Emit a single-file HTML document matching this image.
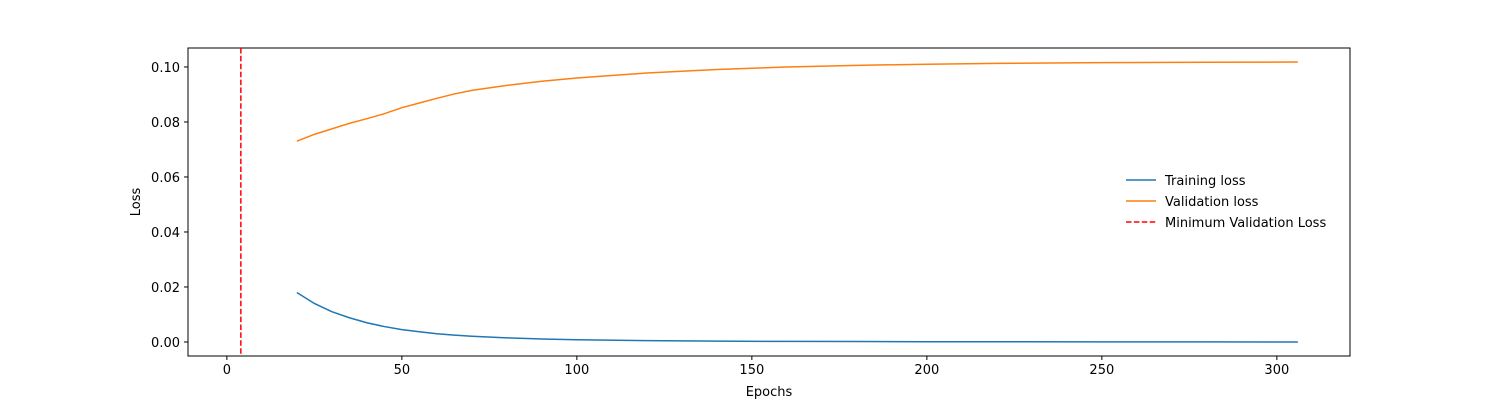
<!DOCTYPE html>
<html><head><meta charset="utf-8">
<style>
body{margin:0;background:#fff;}
svg text{font-family:"DejaVu Sans","Liberation Sans",sans-serif;font-size:13px;fill:#000;}
</style></head>
<body>
<svg id="chart" width="1500" height="400" viewBox="0 0 1500 400" xmlns="http://www.w3.org/2000/svg">
<rect x="0" y="0" width="1500" height="400" fill="#fff"/>
<g id="plot"></g>
</svg>
<script>
const epochs = [20,25,30,35,40,45,50,55,60,65,70,80,90,100,120,140,160,180,200,220,250,280,306];
const validationLoss = [0.073,0.0755,0.0775,0.0795,0.0812,0.083,0.0852,0.0869,0.0886,0.0902,0.0915,0.0933,0.0948,0.0960,0.0978,0.0991,0.1000,0.1006,0.1010,0.1013,0.1016,0.1017,0.1018];
const trainingLoss = [0.018,0.0140,0.0110,0.0088,0.0070,0.0056,0.0045,0.0037,0.0030,0.0025,0.0021,0.0015,0.0011,0.0008,0.0005,0.0003,0.0002,0.00015,0.0001,0.00007,0.00004,0.00002,0.00001];
const minValEpoch = 4;
const xTicks = [0,50,100,150,200,250,300];
const yTicks = [0.00,0.02,0.04,0.06,0.08,0.10];

const L=188,R=1350,T=48,B=356;
const xMin=-11.1,xMax=320.9,yMin=-0.0051,yMax=0.1069;
const xs=v=>L+(v-xMin)/(xMax-xMin)*(R-L);
const ys=v=>B-(v-yMin)/(yMax-yMin)*(B-T);
const NS="http://www.w3.org/2000/svg";
const g=document.getElementById('plot');
function mk(tag,attrs,parent){const e=document.createElementNS(NS,tag);for(const k in attrs)e.setAttribute(k,attrs[k]);(parent||g).appendChild(e);return e;}

const frame=mk('rect',{x:L,y:T,width:R-L,height:B-T,fill:'none',stroke:'#000','stroke-width':1});



xTicks.forEach(t=>{
  const x=xs(t);
  const l=mk('line',{x1:x,x2:x,y1:B,y2:B+4,stroke:'#000'});
  
  
  const tx=mk('text',{x:x,y:B+18,'text-anchor':'middle'});
  tx.textContent=String(t);
  
  
});
yTicks.forEach(t=>{
  const y=ys(t);
  const l=mk('line',{x1:L-4,x2:L,y1:y,y2:y,stroke:'#000'});
  
  
  const tx=mk('text',{x:L-8,y:y+5,'text-anchor':'end'});
  tx.textContent=t.toFixed(2);
  
  
});

function series(vals,color,name){
  const d=epochs.map((e,i)=>(i?'L':'M')+xs(e).toFixed(2)+','+ys(vals[i]).toFixed(2)).join(' ');
  const p=mk('path',{d:d,fill:'none',stroke:color,'stroke-width':1.5});
  
  
}
series(trainingLoss,'#1f77b4','training-loss-line');
series(validationLoss,'#ff7f0e','validation-loss-line');

const vl=mk('line',{x1:xs(minValEpoch),x2:xs(minValEpoch),y1:T,y2:B,stroke:'#ff0000','stroke-width':1.5,'stroke-dasharray':'5.5,2.4'});



const xl=mk('text',{x:(L+R)/2,y:396,'text-anchor':'middle'});
xl.textContent='Epochs';


const yl=mk('text',{x:140,y:(T+B)/2,'text-anchor':'middle',transform:'rotate(-90 140 '+((T+B)/2)+')'});
yl.textContent='Loss';



const legend=[['Training loss','#1f77b4',''],['Validation loss','#ff7f0e',''],['Minimum Validation Loss','#ff0000','5.5,2.4']];
legend.forEach((it,i)=>{
  const y=180+i*21;
  const ln=mk('line',{x1:1126,x2:1156,y1:y,y2:y,stroke:it[1],'stroke-width':1.5,'stroke-dasharray':it[2]||'none'});
  
  
  const tx=mk('text',{x:1165,y:y+5});
  tx.textContent=it[0];
  
  
});
</script>
</body></html>
